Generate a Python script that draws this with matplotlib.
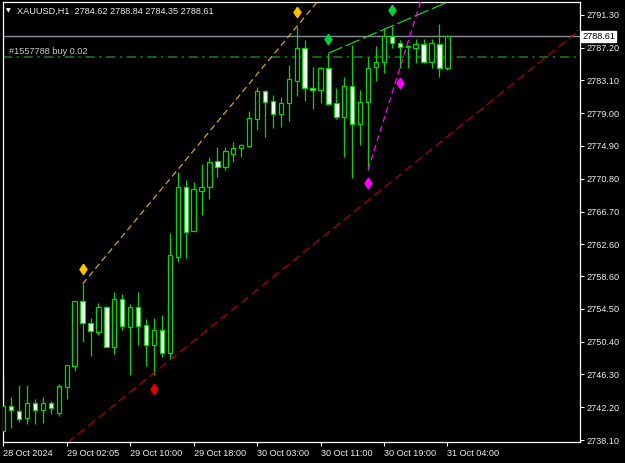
import matplotlib
matplotlib.use('Agg')
import matplotlib.pyplot as plt
from matplotlib.transforms import blended_transform_factory

# hourly XAUUSD candles
opens = [2739.23, 2742.40, 2741.77, 2740.90, 2742.78, 2741.86, 2742.70, 2741.45, 2744.78, 2747.41,
         2755.47, 2752.71, 2751.66, 2754.79, 2749.78, 2755.72, 2752.29, 2754.72, 2752.46, 2749.96,
         2751.87, 2749.03, 2761.05, 2769.81, 2764.30, 2769.31, 2769.81, 2773.06, 2772.28, 2773.87,
         2774.62, 2774.90, 2778.32, 2781.79, 2780.54, 2778.95, 2780.25, 2783.08, 2787.17, 2782.20,
         2781.91, 2784.63, 2780.25, 2778.57, 2782.45, 2777.62, 2780.45, 2784.83, 2785.38, 2788.67,
         2787.83, 2787.36, 2787.13, 2787.63, 2785.38, 2787.63, 2784.62]
highs = [2745.99, 2743.53, 2744.99, 2744.99, 2743.20, 2743.53, 2743.03, 2745.12, 2747.55, 2755.55,
         2757.63, 2753.34, 2755.29, 2754.88, 2756.59, 2756.38, 2755.13, 2756.67, 2753.21, 2753.34,
         2753.75, 2763.98, 2771.69, 2770.65, 2770.34, 2772.65, 2773.56, 2774.82, 2774.82, 2775.40,
         2775.16, 2779.32, 2782.33, 2781.91, 2781.29, 2781.00, 2785.00, 2789.84, 2788.17, 2784.75,
         2784.75, 2786.51, 2782.13, 2783.50, 2787.55, 2781.91, 2786.08, 2787.46, 2789.64, 2789.92,
         2788.17, 2787.55, 2788.26, 2788.26, 2788.26, 2790.17, 2788.84]
lows = [2739.11, 2739.65, 2740.40, 2740.11, 2740.11, 2740.20, 2741.36, 2741.11, 2743.20, 2746.78,
        2750.41, 2748.66, 2751.25, 2749.71, 2748.87, 2751.87, 2746.24, 2750.00, 2747.37, 2746.24,
        2748.53, 2748.12, 2760.42, 2760.85, 2764.20, 2766.27, 2768.23, 2770.99, 2771.84, 2772.94,
        2773.49, 2774.82, 2776.91, 2776.07, 2777.19, 2777.32, 2778.07, 2781.16, 2780.57, 2779.53,
        2780.32, 2780.04, 2778.28, 2773.56, 2770.86, 2775.03, 2771.90, 2783.04, 2784.00, 2787.21,
        2784.63, 2784.63, 2785.25, 2785.25, 2784.63, 2783.58, 2784.35]
closes = [2742.40, 2741.86, 2740.73, 2742.78, 2741.86, 2742.70, 2742.07, 2744.87, 2747.49, 2755.47,
          2752.71, 2751.79, 2754.79, 2749.78, 2755.72, 2752.38, 2754.72, 2752.38, 2749.96, 2751.87,
          2749.03, 2761.26, 2769.81, 2764.18, 2769.48, 2769.81, 2772.94, 2772.31, 2774.32, 2774.69,
          2775.03, 2778.37, 2781.79, 2780.45, 2778.95, 2780.25, 2783.25, 2787.17, 2782.16, 2781.91,
          2784.63, 2780.16, 2778.57, 2782.45, 2777.62, 2780.37, 2784.70, 2785.45, 2788.67, 2787.76,
          2787.33, 2787.32, 2787.63, 2785.38, 2787.76, 2784.70, 2788.61]

time_labels = ['28 Oct 2024', '29 Oct 02:05', '29 Oct 10:00', '29 Oct 18:00',
               '30 Oct 03:00', '30 Oct 11:00', '30 Oct 19:00', '31 Oct 04:00']
price_ticks = [2791.30, 2787.20, 2783.10, 2779.00, 2774.90, 2770.80, 2766.70,
               2762.60, 2758.60, 2754.50, 2750.40, 2746.30, 2742.20, 2738.10]

bid = 2788.61
order_price = 2786.04

# trend lines: (bar, price) anchors
yellow_pts = ([10, 37], [2757.63, 2789.84])
green_pts = ([41, 49], [2786.51, 2789.92])
magenta_pts = ([46, 50], [2771.90, 2784.63])
red_pts = ([19, 44], [2746.49, 2766.48])

# diamond markers
yellow_dia = ([10, 37], [2759.51, 2791.64])
green_dia = ([41, 49], [2788.30, 2791.93])
magenta_dia = ([46, 50], [2770.24, 2782.75])
red_dia = ([19], [2744.53])

GREEN = '#00d800'
FONT = 'Liberation Sans'
FS = 6.6

fig = plt.figure(figsize=(6.25, 4.63), dpi=100, facecolor='black')
ax = fig.add_axes([0.0043, 0.0443, 0.9237, 0.9508])
ax.set_facecolor('black')

x = list(range(len(opens)))

# horizontal lines behind the bars
ax.axhline(bid, color='#8a9099', lw=1.0, zorder=1)
ax.axhline(order_price, color='#1e7d1e', lw=1.1, ls=(0, (6, 3, 1.5, 3)), zorder=1)

# candles
ax.vlines(x, lows, highs, color=GREEN, lw=0.9, zorder=2)
bottoms = [min(o, c) for o, c in zip(opens, closes)]
heights = [max(abs(c - o), 0.05) for o, c in zip(opens, closes)]
fills = ['white' if c < o else 'black' for o, c in zip(opens, closes)]
ax.bar(x, heights, bottom=bottoms, width=0.55, color=fills, edgecolor=GREEN,
       linewidth=0.9, zorder=3)

def ray(pts, color, dash, lw=0.9):
    (x0, x1), (y0, y1) = pts
    slope = (y1 - y0) / (x1 - x0)
    xe = 80
    ax.plot([x0, xe], [y0, y0 + slope * (xe - x0)], color=color, lw=lw, ls=dash, zorder=4)

ray(yellow_pts, '#d4a020', (0, (5, 3)))
ray(green_pts, '#20d020', (0, (12, 3)))
ray(magenta_pts, '#ff00ff', (0, (5, 3)))
ax.axline((red_pts[0][0], red_pts[1][0]), (red_pts[0][1], red_pts[1][1]),
          color='#b00000', lw=0.9, ls=(0, (7, 3.5)), zorder=4)

dia = [(0, 1), (0.68, 0), (0, -1), (-0.68, 0), (0, 1)]
for pts, col in [(yellow_dia, '#ffc000'), (green_dia, '#00d040'),
                 (magenta_dia, '#ff00ff'), (red_dia, '#e00000')]:
    ax.plot(pts[0], pts[1], ls='none', marker=dia, ms=7.5, color=col, mec=col, zorder=5)

ax.set_xlim(-0.076, 72.72)
ax.set_ylim(2737.79, 2792.89)

# axes look like the terminal
for s in ax.spines.values():
    s.set_color('white')
    s.set_linewidth(0.9)
ax.yaxis.tick_right()
ax.set_yticks(price_ticks)
ax.set_yticklabels(['%.2f' % v for v in price_ticks])
ax.set_xticks(range(0, 57, 8))
ax.set_xticklabels(time_labels, ha='left')
ax.tick_params(axis='both', colors='white', labelcolor='#ececec', length=3, width=0.8,
               labelsize=FS, pad=1.5)
for lab in ax.get_xticklabels() + ax.get_yticklabels():
    lab.set_fontfamily(FONT)

# current price box
tr = blended_transform_factory(ax.transAxes, ax.transData)
ax.text(1.0035, bid, '%.2f' % bid, transform=tr, ha='left', va='center', fontsize=FS,
        family=FONT, color='black', clip_on=False,
        bbox=dict(boxstyle='square,pad=0.12', fc='white', ec='white'))

# header + order label
fig.text(0.0096, 0.9762, '\u25bc', color='white', fontsize=4.5, family='DejaVu Sans',
         va='center', ha='left')
fig.text(0.0277, 0.9762, 'XAUUSD,H1  2784.62 2788.84 2784.35 2788.61', color='#ececec',
         fontsize=FS, family=FONT, va='center', ha='left')
fig.text(0.0149, 0.8883, '#1557788 buy 0.02', color='#c8c8c8', fontsize=FS, family=FONT,
         va='center', ha='left')

fig.savefig('out.png', dpi=100, facecolor='black')
